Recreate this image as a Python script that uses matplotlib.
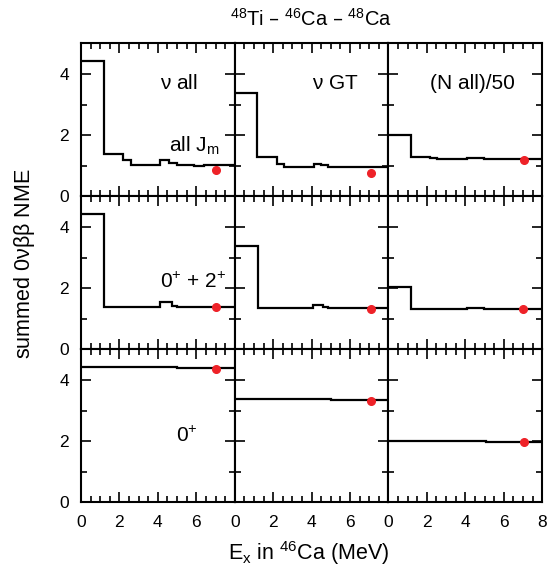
import matplotlib
matplotlib.use("Agg")
import matplotlib.pyplot as plt
from matplotlib.ticker import MultipleLocator

plt.rcParams['font.family'] = ['Liberation Sans', 'DejaVu Sans']
plt.rcParams['mathtext.default'] = 'regular'

# step edges / levels for each panel (row, col)
edges_nu_all = [0, 1.2, 2.2, 2.6, 4.1, 4.6, 5.0, 5.9, 6.4, 8]
vals_nu_all = [4.44, 1.37, 1.18, 1.04, 1.19, 1.08, 1.04, 1.0, 1.03]
edges_gt_all = [0, 1.17, 2.2, 2.56, 4.1, 4.5, 4.85, 8]
vals_gt_all = [3.38, 1.3, 1.05, 0.97, 1.07, 1.02, 0.96]
edges_n_all = [0, 1.19, 2.16, 2.54, 4.1, 4.95, 8]
vals_n_all = [2.02, 1.29, 1.25, 1.21, 1.26, 1.23]

edges_nu_02 = [0, 1.19, 4.12, 4.73, 5.0, 8]
vals_nu_02 = [4.43, 1.40, 1.54, 1.43, 1.40]
edges_gt_02 = [0, 1.19, 4.09, 4.6, 4.85, 8]
vals_gt_02 = [3.38, 1.34, 1.44, 1.39, 1.35]
edges_n_02 = [0, 1.16, 4.09, 4.97, 8]
vals_n_02 = [2.03, 1.31, 1.36, 1.32]

edges_nu_0 = [0, 5.0, 8]
vals_nu_0 = [4.42, 4.39]
edges_gt_0 = [0, 5.0, 8]
vals_gt_0 = [3.37, 3.35]
edges_n_0 = [0, 5.1, 8]
vals_n_0 = [2.0, 1.99]

# red points (full calculation)
dot_x = [[7.03, 7.07, 7.04], [7.03, 7.07, 7.02], [7.03, 7.07, 7.04]]
dot_y = [[0.85, 0.77, 1.19], [1.39, 1.33, 1.33], [4.37, 3.32, 1.97]]

edges = [[edges_nu_all, edges_gt_all, edges_n_all],
         [edges_nu_02, edges_gt_02, edges_n_02],
         [edges_nu_0, edges_gt_0, edges_n_0]]
vals = [[vals_nu_all, vals_gt_all, vals_n_all],
        [vals_nu_02, vals_gt_02, vals_n_02],
        [vals_nu_0, vals_gt_0, vals_n_0]]

fig, axes = plt.subplots(3, 3, figsize=(5.51, 5.71), dpi=100)
fig.subplots_adjust(left=0.147, right=0.984, top=0.924, bottom=0.12,
                    hspace=0, wspace=0)

for r in range(3):
    for c in range(3):
        ax = axes[r][c]
        ax.stairs(vals[r][c], edges[r][c], baseline=None, color='black', lw=1.6)
        ax.plot(dot_x[r][c], dot_y[r][c], 'o', color='#ee2228', ms=5.5, zorder=5)
        ax.set_xlim(0, 8)
        ax.set_ylim(0, 5)
        ax.xaxis.set_major_locator(MultipleLocator(2))
        ax.xaxis.set_minor_locator(MultipleLocator(0.5))
        ax.yaxis.set_major_locator(MultipleLocator(2))
        ax.yaxis.set_minor_locator(MultipleLocator(1))
        ax.tick_params(which='both', direction='in', top=True, right=True,
                       width=1.2, labelsize=12.5)
        ax.tick_params(which='major', length=7)
        ax.tick_params(which='minor', length=4)
        ax.tick_params(axis='y', pad=8.5)
        ax.tick_params(axis='x', pad=9)
        for s in ax.spines.values():
            s.set_linewidth(1.5)
        if c > 0:
            ax.set_yticklabels([])
        if r < 2:
            ax.set_xticklabels([])
        elif c < 2:
            ax.set_xticks([0, 2, 4, 6, 8])
            ax.set_xticklabels(['0', '2', '4', '6', ''])

axes[0][0].text(5.1, 3.68, r'$\nu$ all', ha='center', va='center', fontsize=15)
axes[0][0].text(5.9, 1.65, r'all J$_m$', ha='center', va='center', fontsize=15)
axes[0][1].text(5.26, 3.69, r'$\nu$ GT', ha='center', va='center', fontsize=15)
axes[0][2].text(4.35, 3.68, '(N all)/50', ha='center', va='center', fontsize=15)
axes[1][0].text(5.85, 2.2, r'0$^{{+}}$ + 2$^{{+}}$', ha='center', va='center',
                fontsize=15)
axes[2][0].text(5.5, 2.18, r'0$^{{+}}$', ha='center', va='center', fontsize=15)

fig.text(0.565, 0.967, r'$^{48}$Ti – $^{46}$Ca – $^{48}$Ca', ha='center',
         va='center', fontsize=14.5)
fig.text(0.56, 0.032, r'E$_x$ in $^{46}$Ca (MeV)', ha='center', va='center',
         fontsize=15.5)
fig.text(0.044, 0.538, r'summed 0$\nu\beta\beta$ NME', ha='center', va='center',
         rotation=90, fontsize=15.5)

fig.savefig('out.png', dpi=100)
